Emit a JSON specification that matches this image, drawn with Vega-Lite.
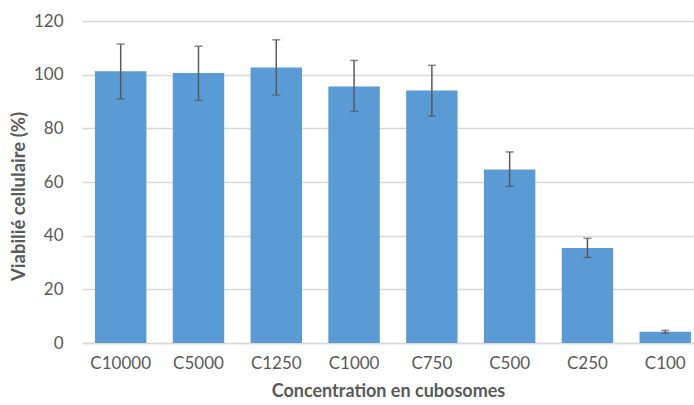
{
  "$schema": "https://vega.github.io/schema/vega-lite/v6.json",
  "autosize": "none",
  "width": 612,
  "height": 322,
  "padding": {"left": 82, "top": 21, "right": 0, "bottom": 62},
  "background": "white",
  "config": {"view": {"stroke": null}, "font": "Lato"},
  "data": {"values": [
    {"c": "C10000", "v": 101.3, "lo": 91.0, "hi": 111.4},
    {"c": "C5000", "v": 100.6, "lo": 90.4, "hi": 110.6},
    {"c": "C1250", "v": 102.7, "lo": 92.4, "hi": 113.0},
    {"c": "C1000", "v": 95.6, "lo": 86.3, "hi": 105.3},
    {"c": "C750", "v": 94.1, "lo": 84.6, "hi": 103.5},
    {"c": "C500", "v": 64.7, "lo": 58.4, "hi": 71.2},
    {"c": "C250", "v": 35.4, "lo": 31.9, "hi": 39.0},
    {"c": "C100", "v": 4.2, "lo": 3.7, "hi": 4.7}
  ]},
  "encoding": {
    "x": {"field": "c", "type": "nominal", "sort": null,
      "scale": {"paddingInner": 0.339, "paddingOuter": 0.103, "align": 0.81},
      "axis": {"title": "Concentration  en cubosomes", "labelAngle": 0, "ticks": false,
        "domainColor": "#D9D9D9", "domainWidth": 1.5, "labelFontSize": 17, "labelColor": "#595959",
        "labelPadding": 12, "titleFontSize": 18, "titleColor": "#595959", "titleFontWeight": "bold", "titlePadding": 11}}
  },
  "layer": [
    {"mark": {"type": "bar", "color": "#5B9BD5"},
     "encoding": {"y": {"field": "v", "type": "quantitative", "scale": {"domain": [0, 120]},
       "axis": {"title": "Viabilié cellulaire (%)", "values": [0,20,40,60,80,100,120], "ticks": false, "domain": false,
         "gridColor": "#D9D9D9", "gridWidth": 1.5, "labelFontSize": 17, "labelColor": "#595959", "labelPadding": 19,
         "titleFontSize": 18.5, "titleColor": "#595959", "titleFontWeight": "bold", "titlePadding": 5, "titleY": 175}}}},
    {"mark": {"type": "rule", "color": "#595959", "strokeWidth": 1.5},
     "encoding": {"y": {"field": "lo", "type": "quantitative"}, "y2": {"field": "hi"}}},
    {"mark": {"type": "tick", "color": "#595959", "size": 8, "thickness": 1.5},
     "encoding": {"y": {"field": "lo", "type": "quantitative"}}},
    {"mark": {"type": "tick", "color": "#595959", "size": 8, "thickness": 1.5},
     "encoding": {"y": {"field": "hi", "type": "quantitative"}}}
  ]
}
